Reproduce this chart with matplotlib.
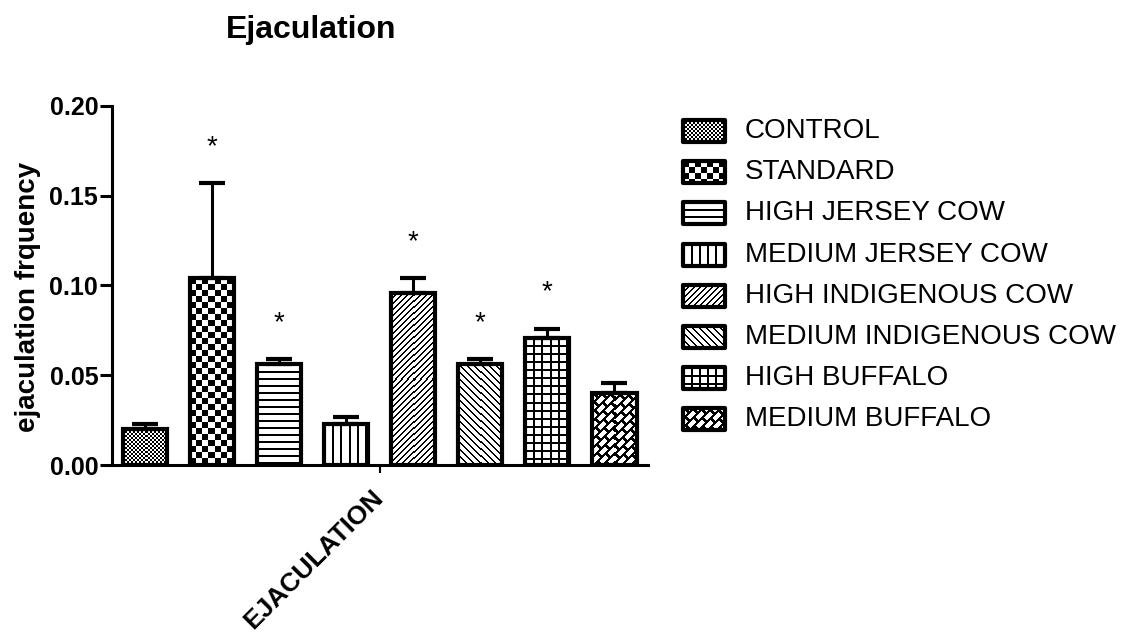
import numpy as np
import matplotlib
matplotlib.use("Agg")
import matplotlib.pyplot as plt
from matplotlib.patches import Rectangle

plt.rcParams["font.family"] = ["Liberation Sans", "DejaVu Sans"]

# Ejaculation frequency per treatment group (mean and upward SEM)
groups = ["CONTROL", "STANDARD", "HIGH JERSEY COW", "MEDIUM JERSEY COW",
          "HIGH INDIGENOUS COW", "MEDIUM INDIGENOUS COW", "HIGH BUFFALO",
          "MEDIUM BUFFALO"]
means = [0.020, 0.104, 0.056, 0.023, 0.096, 0.056, 0.071, 0.040]
sems = [0.003, 0.053, 0.003, 0.004, 0.008, 0.003, 0.005, 0.0055]
significant = [False, True, True, False, True, True, True, False]
fills = ["fine_checker", "checker", "hlines", "vlines",
         "diag_up", "diag_down", "grid", "bricks"]
y_ticks = [0.00, 0.05, 0.10, 0.15, 0.20]
x_label = "EJACULATION"


def pattern(kind, h, w):
    """Return an h x w array, 1 where the fill pattern is black."""
    r, c = np.mgrid[0:h, 0:w]
    if kind == "fine_checker":
        out = (r // 2 + c // 2) % 2 == 0
    elif kind == "checker":
        out = (r // 6 + c // 6) % 2 == 0
    elif kind == "hlines":
        out = (r % 7) < 2
    elif kind == "vlines":
        out = (c % 8) < 2
    elif kind == "diag_up":
        out = ((r + c) % 6) < 2
    elif kind == "diag_down":
        out = ((c - r) % 7) < 2
    elif kind == "grid":
        out = ((r % 8) < 2) | ((c % 8) < 2)
    elif kind == "bricks":
        # white dashes running along "/" on black, staggered row to row
        k = (r + c) // 9
        along = (c - r + (k % 2) * 8) % 16
        out = ((r + c) % 9 < 3) | (along < 4)
    else:
        out = np.zeros((h, w), dtype=bool)
    return out.astype(float)


fig = plt.figure(figsize=(11.35, 6.35), dpi=100)
ax = fig.add_axes([0.0987, 0.2677, 0.4722, 0.5654])

x = np.arange(len(groups))
width = 0.66
ax.set_xlim(-0.49, 7.5)
ax.set_ylim(0, 0.20)

bars = ax.bar(x, means, width=width, facecolor="none", edgecolor="black",
              linewidth=3, zorder=3)

# fill each bar with its pattern, pixel for pixel
fig.canvas.draw()
for bar, kind in zip(bars, fills):
    x0, y0 = bar.get_x(), bar.get_y()
    x1, y1 = x0 + bar.get_width(), y0 + bar.get_height()
    (px0, py0), (px1, py1) = ax.transData.transform([(x0, y0), (x1, y1)])
    h_px = max(int(round(abs(py1 - py0))), 1)
    w_px = max(int(round(abs(px1 - px0))), 1)
    img = ax.imshow(pattern(kind, h_px, w_px), cmap="gray_r", vmin=0, vmax=1,
                    extent=(x0, x1, y0, y1), aspect="auto",
                    interpolation="nearest", zorder=2)
    img.set_clip_path(bar)

ax.errorbar(x, means, yerr=[np.zeros(len(sems)), sems], fmt="none",
            ecolor="black", elinewidth=2.2, capsize=9.5, capthick=3,
            zorder=2.5)

for xi, m, s, sig in zip(x, means, sems, significant):
    if sig:
        ax.annotate("*", xy=(xi, m + s), xytext=(0, 26),
                    textcoords="offset points", ha="center", va="center",
                    fontsize=20)

ax.set_xlim(-0.49, 7.5)
ax.set_ylim(0, 0.20)

for side in ["top", "right"]:
    ax.spines[side].set_visible(False)
for side in ["left", "bottom"]:
    ax.spines[side].set_linewidth(2.2)

ax.set_yticks(y_ticks)
ax.set_yticklabels([f"{v:.2f}" for v in y_ticks], fontsize=18,
                   fontweight="bold")
ax.tick_params(axis="y", length=9, width=2.2, pad=1)

ax.set_xticks([x.mean()])
ax.set_xticklabels([x_label], fontsize=19, fontweight="bold")
ax.tick_params(axis="x", length=6, width=1.5, pad=15)
for lab in ax.get_xticklabels():
    lab.set_rotation(45)
    lab.set_ha("right")
    lab.set_va("center")
    lab.set_rotation_mode("anchor")

fig.text(0.0247, 0.532, "ejaculation frquency", rotation=90, ha="center",
         va="center", fontsize=20, fontweight="bold")
fig.text(0.274, 0.953, "Ejaculation", ha="center", va="center",
         fontsize=23, fontweight="bold")

# legend drawn in a pixel-space overlay
lax = fig.add_axes([0, 0, 1, 1])
lax.set_zorder(5)
for i, (name, kind) in enumerate(zip(groups, fills)):
    yc = 131 + 41.2 * i
    box = Rectangle((683, yc - 11), 42, 22, facecolor="none",
                    edgecolor="black", linewidth=3, joinstyle="round",
                    zorder=3)
    lax.add_patch(box)
    img = lax.imshow(pattern(kind, 22, 42), cmap="gray_r", vmin=0, vmax=1,
                     extent=(683, 725, yc + 11, yc - 11), aspect="auto",
                     interpolation="nearest", zorder=2)
    img.set_clip_path(box)
    lax.text(745, yc, name, fontsize=20, va="center", ha="left")
lax.set_xlim(0, 1135)
lax.set_ylim(635, 0)
lax.axis("off")

fig.savefig("out.png", dpi=100)
